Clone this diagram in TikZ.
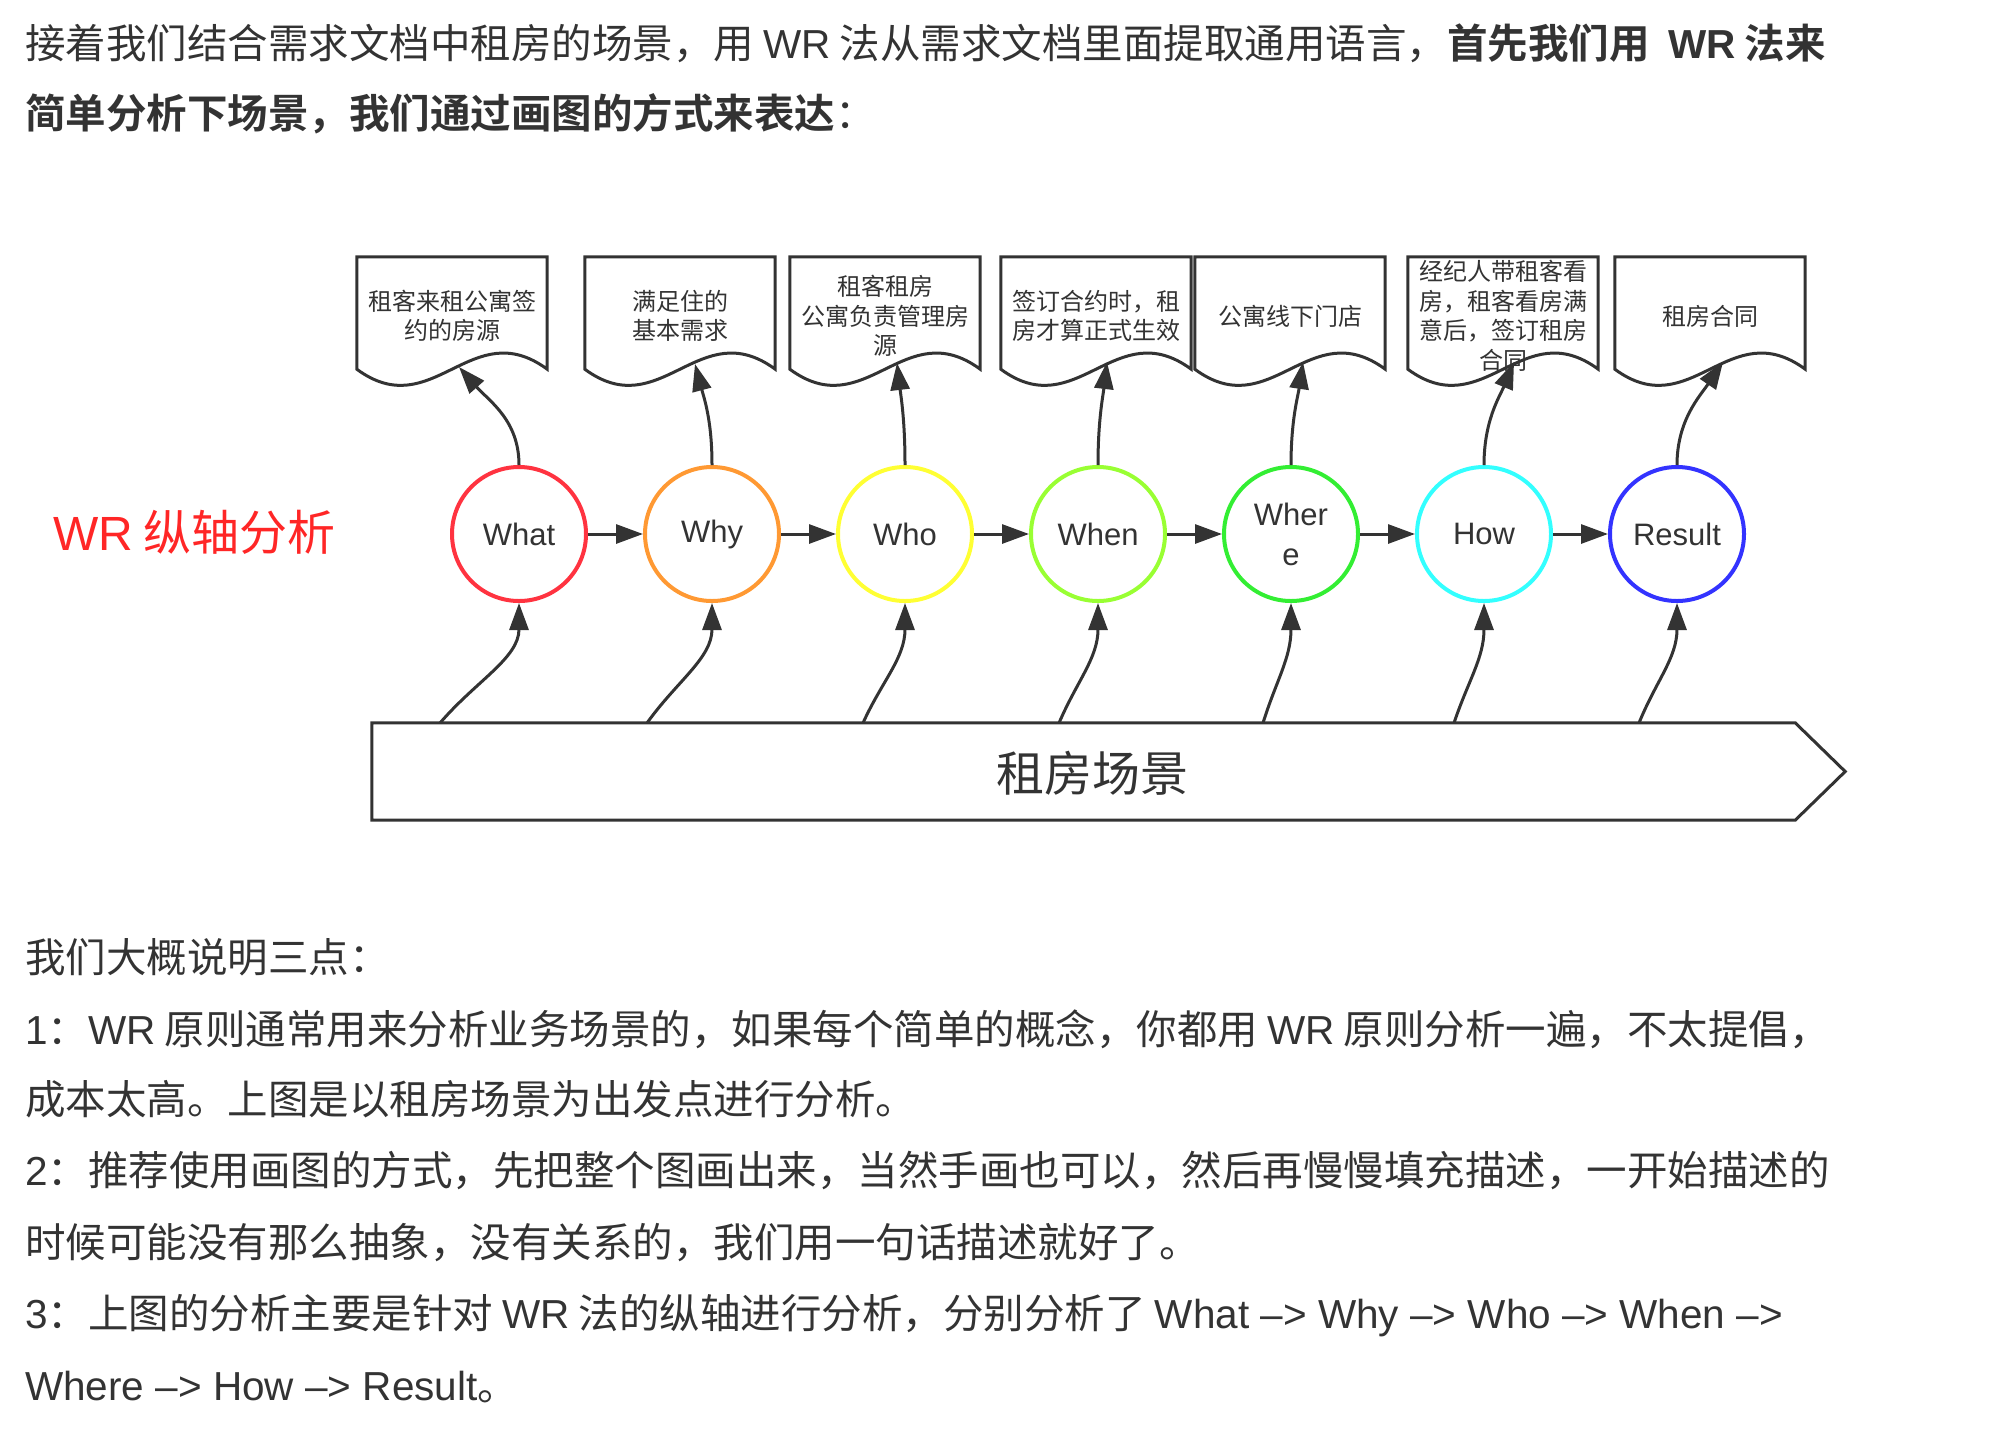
\documentclass[tikz,border=0pt]{standalone}
\usepackage{fontspec}
\setmainfont{Noto Sans CJK SC}[BoldFont={Noto Sans CJK SC Bold}]
\newfontfamily\latfont{Liberation Sans}
\newcommand\lat[1]{{\latfont #1}}
\usetikzlibrary{arrows.meta}

\definecolor{txtgray}{HTML}{333333}
\definecolor{linegray}{HTML}{333333}
\definecolor{labelred}{HTML}{FF2626}
\definecolor{whatred}{HTML}{FF3340}
\definecolor{whyorange}{HTML}{FF9933}
\definecolor{whoyellow}{HTML}{FFFF33}
\definecolor{whenlime}{HTML}{99FF33}
\definecolor{wheregreen}{HTML}{33EE33}
\definecolor{howcyan}{HTML}{33FFFF}
\definecolor{resultblue}{HTML}{3333FF}

\tikzset{
    circ/.style={circle, minimum size=134pt, inner sep=0pt, line width=4pt,
        text=txtgray, font=\latfont\fontsize{31}{40}\selectfont, align=center},
    docbox/.style={minimum width=190pt, minimum height=112pt, inner sep=0pt},
    doctext/.style={inner sep=0pt, text=txtgray, align=center,
        font=\fontsize{24}{29.5}\selectfont},
    docline/.style={draw=linegray, line width=3pt},
    flow/.style={draw=linegray, line width=3pt, -{Triangle[length=27pt,width=19pt]}},
    scenebox/.style={minimum width=1423pt, minimum height=97pt, inner sep=0pt},
    bodytext/.style={anchor=west, inner sep=0pt, text height=.88em, text depth=.12em,
        text=txtgray, font=\fontsize{40.5}{40.5}\selectfont}
}

\begin{document}
\begin{tikzpicture}[x=1pt, y=-1pt]
\useasboundingbox (0,0) rectangle (2000,1444);

    % Intro text
    \node[bodytext] (intro1) at (25,55) {接着我们结合需求文档中租房的场景，用 \lat{WR} 法从需求文档里面提取通用语言，\textbf{首先我们用\ \ \lat{WR} 法来}};
    \node[bodytext] (intro2) at (25,125) {\textbf{简单分析下场景，我们通过画图的方式来表达}：};

    % Axis label
    \node[bodytext, text=labelred, font=\fontsize{48}{48}\selectfont] (axis) at (53,547) {\lat{WR} 纵轴分析};

    % Documents
    \node[docbox] (d1) at (452,313) {};
    \node[docbox] (d2) at (680,313) {};
    \node[docbox] (d3) at (885,313) {};
    \node[docbox] (d4) at (1096,313) {};
    \node[docbox] (d5) at (1290,313) {};
    \node[docbox] (d6) at (1503,313) {};
    \node[docbox] (d7) at (1710,313) {};
    \foreach \i in {1,...,7}
        \draw[docline] (d\i.south west) -- (d\i.north west) -- (d\i.north east) -- (d\i.south east)
            .. controls +(-76,-56) and +(76,56) .. (d\i.south west) -- cycle;

    \node[doctext] (dt1) at (452,316) {租客来租公寓签\\约的房源};
    \node[doctext] (dt2) at (680,316) {满足住的\\基本需求};
    \node[doctext] (dt3) at (885,316) {租客租房\\公寓负责管理房\\源};
    \node[doctext] (dt4) at (1096,316) {签订合约时，租\\房才算正式生效};
    \node[doctext] (dt5) at (1290,316) {公寓线下门店};
    \node[doctext] (dt6) at (1503,316) {经纪人带租客看\\房，租客看房满\\意后，签订租房\\合同};
    \node[doctext] (dt7) at (1710,316) {租房合同};

    % Questions
    \node[circ, draw=whatred] (w1) at (519,534) {What};
    \node[circ, draw=whyorange] (w2) at (712,534) {Why};
    \node[circ, draw=whoyellow] (w3) at (905,534) {Who};
    \node[circ, draw=whenlime] (w4) at (1098,534) {When};
    \node[circ, draw=wheregreen] (w5) at (1291,534) {Wher\\e};
    \node[circ, draw=howcyan] (w6) at (1484,534) {How};
    \node[circ, draw=resultblue] (w7) at (1677,534) {Result};

    \foreach \i/\j in {1/2,2/3,3/4,4/5,5/6,6/7}
        \draw[flow] (w\i) -- (w\j);

    \foreach \i/\tx/\ty/\b in {1/459/367/30,2/695/364/9,3/897/363/4,4/1107/362/-4,5/1303/362/-5,6/1514/362/-14,7/1723/362/-23} {
        \coordinate (t\i) at (\tx,\ty);
        \draw[flow] (w\i.north) .. controls +(0,-45) and +(\b,34) .. (t\i);
    }

    % Scene
    \node[scenebox] (scene) at (1083.5,771.5) {};
    \draw[docline] (scene.north west) -- (scene.north east) -- ([xshift=50pt]scene.east)
        -- (scene.south east) -- (scene.south west) -- cycle;
    \node[text=txtgray, font=\fontsize{48}{48}\selectfont] (scenetext) at (1092,773) {租房场景};

    \foreach \i/\sx/\a in {1/440/36,2/647/30,3/863/19,4/1059/18,5/1263/13,6/1454/14,7/1639/17} {
        \coordinate (s\i) at (\sx,723);
        \draw[flow] (s\i) .. controls +(\a,-42) and +(0,55) .. (w\i.south);
    }

    % Notes
    \node[bodytext] (note0) at (25,969) {我们大概说明三点：};
    \node[bodytext] (note1) at (25,1041) {\lat{1}：\lat{WR} 原则通常用来分析业务场景的，如果每个简单的概念，你都用 \lat{WR} 原则分析一遍，不太提倡，};
    \node[bodytext] (note2) at (25,1111) {成本太高。上图是以租房场景为出发点进行分析。};
    \node[bodytext] (note3) at (25,1182) {\lat{2}：推荐使用画图的方式，先把整个图画出来，当然手画也可以，然后再慢慢填充描述，一开始描述的};
    \node[bodytext] (note4) at (25,1254) {时候可能没有那么抽象，没有关系的，我们用一句话描述就好了。};
    \node[bodytext] (note5) at (25,1325) {\lat{3}：上图的分析主要是针对 \lat{WR} 法的纵轴进行分析，分别分析了 \lat{What –> Why –> Who –> When –>}};
    \node[bodytext] (note6) at (25,1397) {\lat{Where –> How –> Result}。};

\end{tikzpicture}
\end{document}
